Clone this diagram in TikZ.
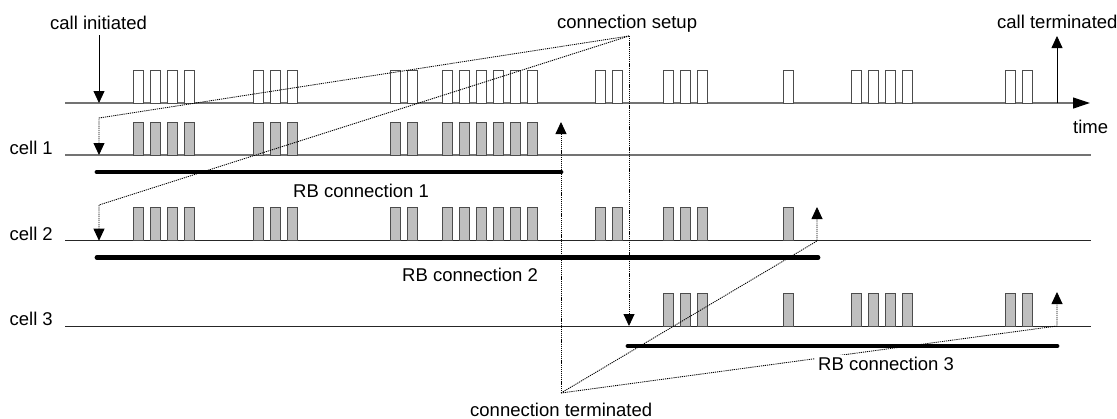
\documentclass[tikz,border=0pt]{standalone}
\usepackage{fontspec}
\setmainfont{Liberation Sans}
\usetikzlibrary{arrows.meta}
\begin{document}
\begin{tikzpicture}[x=1pt,y=-1pt,
  font=\fontsize{18.5}{22}\selectfont,
  lbl/.style={inner sep=0pt, anchor=base west},
  cellbl/.style={inner sep=0pt, anchor=base east},
  axisg/.style={draw=black!55, line width=1.2pt},
  axisk/.style={draw=black!85, line width=0.8pt},
  wbox/.style={draw=black!70, fill=white, line width=0.9pt},
  gbox/.style={draw=black!70, fill=black!25, line width=0.9pt},
  rbline/.style={line width=4.8pt, line cap=round},
  dots/.style={dash pattern=on 1.2pt off 0.9pt, line width=0.85pt},
  tip/.style={-{Triangle[length=12pt,width=11pt,color=black]}},
]
\useasboundingbox (0,0) rectangle (1117,418);

% time lines
\coordinate (a0) at (65,103);   \coordinate (a1) at (1090,103);
\coordinate (c10) at (65,155);  \coordinate (c11) at (1091,155);
\coordinate (c20) at (65,240.7);\coordinate (c21) at (1091,240.7);
\coordinate (c30) at (65,326);  \coordinate (c31) at (1091,326);
\draw[axisg, -{Triangle[length=17pt,width=11pt,color=black]}] (a0) -- (a1);
\draw[axisg] (c10) -- (c11);
\draw[axisk] (c20) -- (c21);
\draw[axisk] (c30) -- (c31);

% packets
\foreach \x in {133,150,167,184,253,270,287,390,407,442,459,476,493,510,527,595,612,663,680,697,783,851,868,885,902,1005,1022}
  \draw[wbox] (\x,103) rectangle ++(10.7,-33);
\foreach \x in {133,150,167,184,253,270,287,390,407,442,459,476,493,510,527}
  \draw[gbox] (\x,155) rectangle ++(10.7,-33);
\foreach \x in {133,150,167,184,253,270,287,390,407,442,459,476,493,510,527,595,612,663,680,697,783}
  \draw[gbox] (\x,240.7) rectangle ++(10.7,-33);
\foreach \x in {663,680,697,783,851,868,885,902,1005,1022}
  \draw[gbox] (\x,326) rectangle ++(10.7,-33);

% RB connections
\coordinate (r10) at (97,172);  \coordinate (r11) at (561,172);
\coordinate (r20) at (97,257.7);\coordinate (r21) at (818,257.7);
\coordinate (r30) at (628,346); \coordinate (r31) at (1057,346);
\draw[rbline] (r10) -- (r11);
\draw[rbline] (r20) -- (r21);
\draw[rbline] (r30) -- (r31);

% labels
\node[lbl] (callinit) at (50,29) {call initiated};
\node[lbl] (connsetup) at (557,28.5) {connection setup};
\node[lbl] (callterm) at (997,28.5) {call terminated};
\node[lbl] (time) at (1073,133) {time};
\node[cellbl] (cell1) at (53,154.5) {cell 1};
\node[cellbl] (cell2) at (53,240) {cell 2};
\node[cellbl] (cell3) at (53,325.5) {cell 3};
\node[lbl] (rb1) at (293,197) {RB connection 1};
\node[lbl] (rb2) at (402,281) {RB connection 2};
\node[lbl] (connterm) at (470,416) {connection terminated};

% solid arrows
\coordinate (ci0) at (99,35);   \coordinate (ci1) at (99,103);
\coordinate (ct0) at (1057,103);\coordinate (ct1) at (1057,36);
\draw[line width=0.8pt, tip] (ci0) -- (ci1);
\draw[line width=0.8pt, tip] (ct0) -- (ct1);

% connection setup
\coordinate (S) at (629,36);
\coordinate (s1) at (99,118);  \coordinate (s1e) at (99,155);
\coordinate (s2) at (99,205);  \coordinate (s2e) at (99,240.7);
\coordinate (s3e) at (629,326);
\draw[dots, tip] (S) -- (s1) -- (s1e);
\draw[dots, tip] (S) -- (s2) -- (s2e);
\draw[dots, tip] (S) -- (s3e);

% connection terminated
\coordinate (T) at (561,393);
\coordinate (t1e) at (561,122);
\coordinate (t2) at (817,241);  \coordinate (t2e) at (817,207);
\coordinate (t3) at (1057,326); \coordinate (t3e) at (1057,292);
\draw[dots, tip] (T) -- (t1e);
\draw[dots, tip] (T) -- (t2) -- (t2e);
\draw[dots, tip] (T) -- (t3) -- (t3e);

\node[lbl, fill=white, inner xsep=3pt, inner ysep=2pt] (rb3) at (815,370) {RB connection 3};
\end{tikzpicture}
\end{document}
